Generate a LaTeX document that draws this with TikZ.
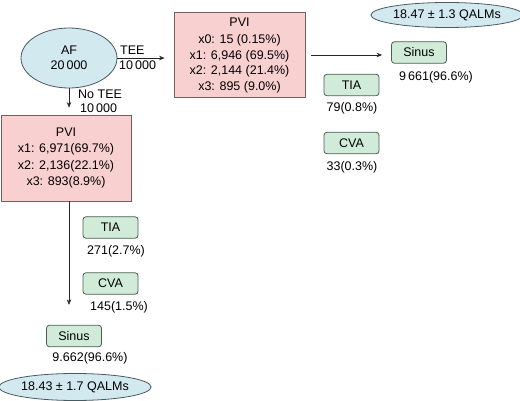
\documentclass[tikz,border=0pt]{standalone}
\usepackage{fontspec}
\setmainfont{Liberation Sans}
\usetikzlibrary{shapes.geometric,arrows.meta}
\definecolor{ellfill}{HTML}{D3E9F0}
\definecolor{ellline}{HTML}{4A5A62}
\definecolor{pvifill}{HTML}{F9D0D0}
\definecolor{pviline}{HTML}{7A5E5E}
\definecolor{grnfill}{HTML}{D0ECD8}
\definecolor{grnline}{HTML}{4F5C52}
\tikzset{
  txt/.style={font=\fontsize{12.5}{15.5}\selectfont, inner sep=0pt},
  ellnode/.style={ellipse, draw=ellline, fill=ellfill, line width=0.8pt, inner sep=0pt, txt, align=center},
  pvibox/.style={rectangle, draw=pviline, fill=pvifill, line width=0.8pt, inner sep=0pt, txt, align=center},
  grnbox/.style={rectangle, rounded corners=3pt, draw=grnline, fill=grnfill, line width=0.8pt, inner sep=0pt, txt, minimum width=55pt, minimum height=21.5pt},
  lbl/.style={txt, anchor=center},
  flow/.style={draw=black!85, line width=0.6pt, -{Stealth[length=5.5pt,width=4.5pt]}},
}
\begin{document}
\begin{tikzpicture}[x=1pt,y=-1pt]
\useasboundingbox (0,0) rectangle (520,401);
% nodes
\node[ellnode, minimum width=96pt, minimum height=60pt] (AF) at (69,58) {AF\\20\,000};
\node[pvibox, minimum width=131pt, minimum height=85pt] (PVIa) at (239.5,55)
  {PVI\\[2pt]x0: 15 (0.15\%)\\x1: 6,946 (69.5\%)\\x2: 2,144 (21.4\%)\\x3: 895 (9.0\%)};
\node[pvibox, minimum width=130pt, minimum height=86pt, font=\fontsize{12.5}{16.3}\selectfont] (PVIb) at (66,158)
  {PVI\\x1: 6,971(69.7\%)\\x2: 2,136(22.1\%)\\x3: 893(8.9\%)};
\node[ellnode, minimum width=142pt, minimum height=25pt] (Qa) at (447,15) {18.47 ± 1.3 QALMs};
\node[ellnode, minimum width=143pt, minimum height=27pt] (Qb) at (75,387) {18.43 ± 1.7 QALMs};
\node[grnbox] (SinA) at (419,52.5) {Sinus};
\node[grnbox] (TIAa) at (351.5,85) {TIA};
\node[grnbox] (CVAa) at (351.5,143) {CVA};
\node[grnbox] (TIAb) at (110.5,227.5) {TIA};
\node[grnbox] (CVAb) at (110.5,283.5) {CVA};
\node[grnbox] (SinB) at (74,336) {Sinus};
% count labels
\node[lbl] (SinAl) at (436,77) {9\,661(96.6\%)};
\node[lbl] (TIAal) at (352,108) {79(0.8\%)};
\node[lbl] (CVAal) at (352,167) {33(0.3\%)};
\node[lbl] (TIAbl) at (116,251) {271(2.7\%)};
\node[lbl] (CVAbl) at (119,307) {145(1.5\%)};
\node[lbl] (SinBl) at (90,358) {9.662(96.6\%)};
% branch labels
\node[txt, anchor=west] (tee) at (120,50) {TEE};
\node[txt, anchor=west] (teen) at (119,65) {10\,000};
\node[txt, anchor=west] (notee) at (78,94) {No TEE};
\node[txt, anchor=west] (noteen) at (80,108) {10\,000};
% connectors
\draw[flow, shorten >=9pt] (AF.east) -- (AF.east -| PVIa.west);
\draw[flow, shorten <=6pt, shorten >=9pt] (PVIa.east) -- (PVIa.east -| SinA.west);
\draw[flow, shorten >=7pt] (AF.south) -- (AF.south |- PVIb.north);
\coordinate (vtop) at ([xshift=3pt]PVIb.south);
\draw[flow, shorten >=20pt] (vtop) -- (vtop |- SinB.north);
\end{tikzpicture}
\end{document}
